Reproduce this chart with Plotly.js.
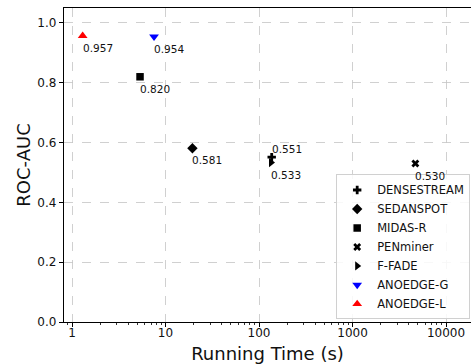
<!DOCTYPE html>
<html>
<head>
<meta charset="utf-8">
<script src="https://cdn.plot.ly/plotly-3.0.1.min.js"></script>
<style>html,body{margin:0;padding:0;background:#fff;}#chart{width:471px;height:364px;}</style>
</head>
<body>
<div id="chart"></div>
<script>
// Data
var methods   = ["DENSESTREAM", "SEDANSPOT", "MIDAS-R", "PENminer", "F-FADE", "ANOEDGE-G", "ANOEDGE-L"];
var runTimes  = [136.7, 19.4, 5.34, 4700, 134.4, 7.54, 1.30];
var rocAuc    = [0.551, 0.581, 0.820, 0.530, 0.533, 0.954, 0.957];
var labelSide = ["above", "below", "below", "below", "below", "below", "below"];
var xTickVals = [1, 10, 100, 1000, 10000];
var xTickText = ["1", "10", "100", "1000", "10000"];
var yTickVals = [0.0, 0.2, 0.4, 0.6, 0.8, 1.0];

// Styles
var symbols = ["cross", "diamond", "square", "x", "triangle-right", "triangle-down", "triangle-up"];
var colors  = ["#000000", "#000000", "#000000", "#000000", "#000000", "#0000ff", "#ff0000"];
var sizes   = [7, 8, 7.5, 7, 8, 8.5, 8.5];

// minor log ticks (2..9 per decade, plus 0.9)
var minorTicks = [0.9];
for (var d = 0; d <= 4; d++) { for (var k = 2; k <= 9; k++) { minorTicks.push(k * Math.pow(10, d)); } }

var font = "DejaVu Sans, sans-serif";
var traces = methods.map(function (m, i) {
  return {
    type: "scatter", mode: "markers", name: m,
    x: [runTimes[i]], y: [rocAuc[i]],
    marker: {symbol: symbols[i], color: colors[i], size: sizes[i], line: {width: 0}}
  };
});

var annotations = methods.map(function (m, i) {
  var above = labelSide[i] === "above";
  return {
    x: Math.log10(runTimes[i]), y: rocAuc[i], xref: "x", yref: "y",
    text: rocAuc[i].toFixed(3), showarrow: false,
    xanchor: "left", yanchor: above ? "bottom" : "top",
    xshift: -2, yshift: above ? 0 : -4,
    font: {family: font, size: 10.5, color: "#111"}
  };
});

var layout = {
  width: 471, height: 364,
  margin: {l: 64, r: 0, t: 8, b: 42},
  paper_bgcolor: "#fff", plot_bgcolor: "#fff",
  font: {family: font, color: "#111"},
  showlegend: true,
  legend: {
    x: 0.998, y: 0.008, xanchor: "right", yanchor: "bottom",
    bgcolor: "rgba(255,255,255,0.85)", bordercolor: "#d0d0d0", borderwidth: 1,
    font: {family: font, size: 11.5, color: "#111"}
  },
  xaxis: {
    type: "log", range: [-0.0856, 4.267],
    tickmode: "array", tickvals: xTickVals, ticktext: xTickText,
    ticks: "outside", ticklen: 4, tickwidth: 1, tickcolor: "#000",
    ticklabelstandoff: -5,
    minor: {tickmode: "array", tickvals: minorTicks, ticks: "outside", ticklen: 2, tickwidth: 0.8, tickcolor: "#000", showgrid: false},
    showline: true, linecolor: "#000", linewidth: 1.2, mirror: true,
    showgrid: true, gridcolor: "#c4c4c4", griddash: "dash", gridwidth: 0.8,
    zeroline: false,
    tickfont: {family: font, size: 12, color: "#111"},
    title: {text: "Running Time (s)", font: {family: font, size: 18, color: "#111"}, standoff: 11}
  },
  yaxis: {
    range: [0, 1.05],
    tickvals: yTickVals, tickformat: ".1f",
    ticks: "outside", ticklen: 4, tickwidth: 1, tickcolor: "#000",
    showline: true, linecolor: "#000", linewidth: 1.2, mirror: false,
    showgrid: true, gridcolor: "#c4c4c4", griddash: "dash", gridwidth: 0.8,
    zeroline: false,
    tickfont: {family: font, size: 12, color: "#111"},
    title: {text: "ROC-AUC", font: {family: font, size: 18, color: "#111"}, standoff: 2}
  },
  annotations: annotations
};

Plotly.newPlot("chart", traces, layout, {displayModeBar: false, staticPlot: true});
</script>
</body>
</html>
